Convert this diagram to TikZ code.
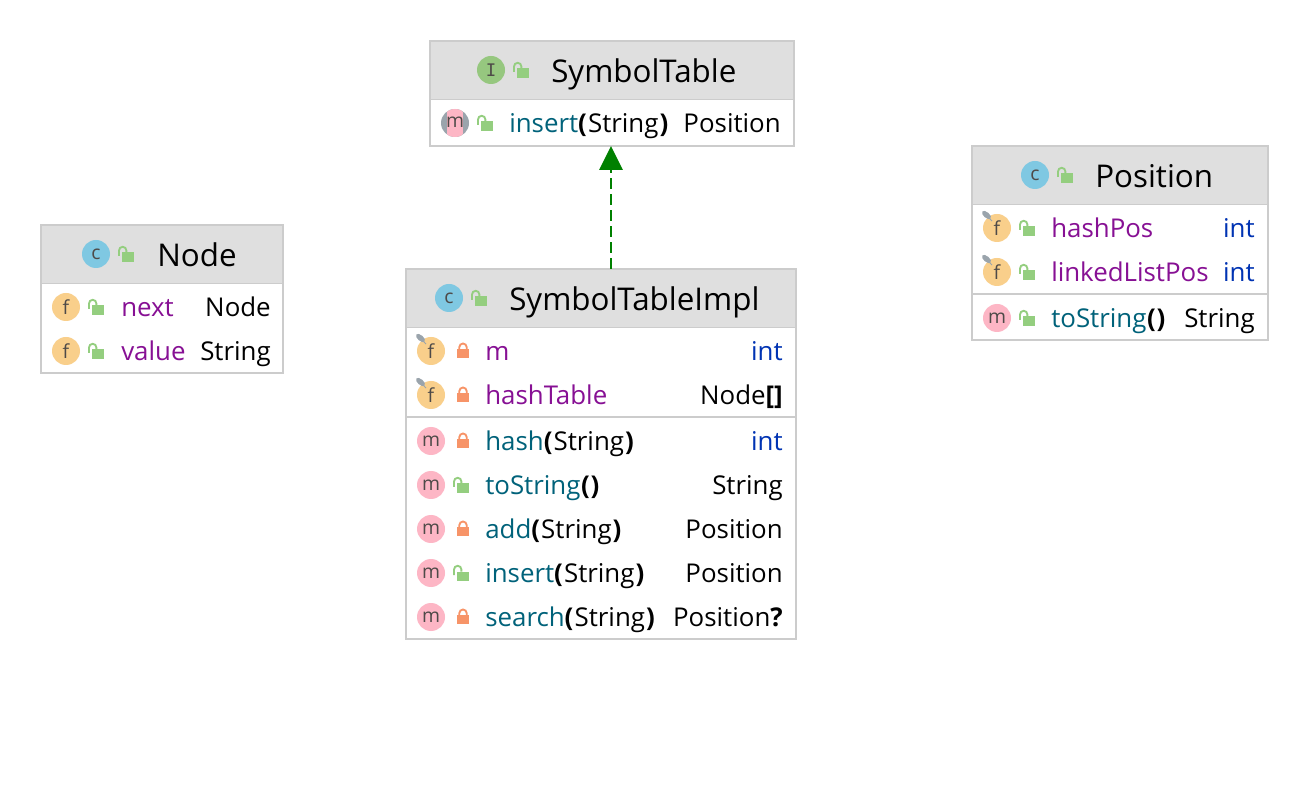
\documentclass[tikz,border=0pt]{standalone}
\usepackage{fontspec}
\setmainfont{Open Sans}
\newfontfamily\icofont{Open Sans}
\newfontfamily\monofnt{DejaVu Sans Mono}
\usetikzlibrary{arrows.meta}
\definecolor{hdr}{HTML}{DFDFDF}
\definecolor{brd}{HTML}{CCCCCC}
\definecolor{mth}{HTML}{00627A}
\definecolor{fld}{HTML}{871094}
\definecolor{typ}{HTML}{0033B3}
\definecolor{cIc}{HTML}{7FC8E2}
\definecolor{iIc}{HTML}{96C77F}
\definecolor{fIc}{HTML}{F9CF8B}
\definecolor{mIc}{HTML}{FDB6C5}
\definecolor{pinc}{HTML}{9AA4AC}
\definecolor{lkg}{HTML}{94CE7F}
\definecolor{lko}{HTML}{F79468}
\definecolor{ltr}{HTML}{4E4A48}
\definecolor{arrowg}{HTML}{008000}
\newcommand\po{\textbf{(}\kern0.8pt}
\newcommand\pc{\kern0.8pt\textbf{)}}
\newcommand\pp{\kern0.5pt\textbf{(\kern0.6pt)}}
\tikzset{
  x=0.75pt,y=-0.75pt,
  classbox/.style={draw=brd,line width=0.9pt,fill=white,inner sep=0pt,outer sep=0pt},
  sepline/.style={draw=brd,line width=1.1pt},
  ttl/.style={inner sep=0pt,anchor=base west,font=\fontsize{23.5}{28}\selectfont,text=black},
  rowl/.style={inner sep=0pt,anchor=base west,font=\fontsize{19.4}{23}\selectfont},
  rowr/.style={inner sep=0pt,anchor=base east,font=\fontsize{19.4}{23}\selectfont,text=black},
  icoltr/.style={inner sep=0pt,font=\icofont\fontsize{14.5}{14.5}\selectfont,text=ltr},
  impl/.style={draw=arrowg,line width=1.6pt,dash pattern=on 8.25pt off 3.75pt,-{Triangle[length=18pt,width=17.5pt,fill=arrowg]}},
}
\newcommand\openlock[2]{%
  \fill[lkg] (#1-4,#2-1.5) rectangle (#1+8,#2+8);
  \draw[lkg,line width=1.4pt] (#1-7,#2+2) -- (#1-7,#2-3.5) arc[start angle=180,end angle=360,radius=3.7] -- (#1+0.4,#2-1.5);
}
\newcommand\closedlock[2]{%
  \fill[lko] (#1-6,#2-2) rectangle (#1+6,#2+7);
  \draw[lko,line width=1.4pt] (#1-3.7,#2-2) -- (#1-3.7,#2-3.8) arc[start angle=180,end angle=360,radius=3.7] -- (#1+3.7,#2-2);
}
\newcommand\pin[2]{%
  \fill[pinc,rotate around={-40:(#1-10.5,#2-13)}] (#1-10.5,#2-13) ellipse[x radius=5.5,y radius=2.8];
  \draw[pinc,line width=0.6pt] (#1-9,#2-11) -- (#1-5,#2-7);
}
\newcommand\icon[5]{\node[circle,fill=#4,minimum size=21pt,inner sep=0pt,icoltr] (#1) at (#2,#3) {#5};}
\begin{document}
\begin{tikzpicture}
\useasboundingbox (0,0) rectangle (1310,812);
\fill[white] (0,0) rectangle (1310,812);

% ---- SymbolTable
\node[classbox,minimum width=273pt,minimum height=78.75pt] (tbl) at (612,93.5) {};
\fill[hdr] (431,42) rectangle (793,99);
\draw[sepline] (430,99.5) -- (794,99.5);
\icon{tblI}{491}{70}{iIc}{\monofnt\fontsize{13}{13}\selectfont I}
\openlock{521}{70}
\node[ttl] (tblT) at (551,82.5) {SymbolTable};
\fill[pinc] (455,123) circle[radius=14];
\begin{scope}
\clip (455,123) circle[radius=14];
\fill[mIc] (447,109) rectangle (463,137);
\end{scope}
\node[icoltr] (tblm) at (455,122.5) {m};
\openlock{485}{123}
\node[rowl] (tblr1) at (509,132.5) {\textcolor{mth}{insert}\po String\pc};
\node[rowr] (tblt1) at (781,132.5) {Position};

% ---- SymbolTableImpl
\node[classbox,minimum width=292.5pt,minimum height=277.5pt] (imp) at (601,454) {};
\fill[hdr] (407,270) rectangle (795,327);
\draw[sepline] (406,327.5) -- (796,327.5);
\draw[sepline] (406,417) -- (796,417);
\icon{impC}{449}{298}{cIc}{c}
\openlock{479}{298}
\node[ttl] (impT) at (509,310.5) {SymbolTableImpl};
\foreach \yy/\nm/\txt/\rt/\kind/\lk in {
  351/a/\textcolor{fld}{m}/\textcolor{typ}{int}/f/c,
  395/b/\textcolor{fld}{hashTable}/Node\textbf{[]}/f/c,
  441/c/\textcolor{mth}{hash}\po String\pc/\textcolor{typ}{int}/m/c,
  485/d/\textcolor{mth}{toString}\pp/String/m/o,
  529/e/\textcolor{mth}{add}\po String\pc/Position/m/c,
  573/f/\textcolor{mth}{insert}\po String\pc/Position/m/o,
  617/g/\textcolor{mth}{search}\po String\pc/Position\textbf{?}/m/c}{%
  \if f\kind
    \icon{impi\nm}{431}{\yy}{fIc}{f}
    \pin{431}{\yy}
  \else
    \icon{impi\nm}{431}{\yy}{mIc}{m}
  \fi
  \if c\lk \closedlock{463}{\yy}\else \openlock{461}{\yy}\fi
  \node[rowl] (impl\nm) at (485,\yy+9.5) {\txt};
  \node[rowr] (impr\nm) at (783,\yy+9.5) {\rt};
}

% ---- Node
\node[classbox,minimum width=181.5pt,minimum height=111pt] (nod) at (162,299) {};
\fill[hdr] (42,226) rectangle (282,283);
\draw[sepline] (41,283.5) -- (283,283.5);
\icon{nodC}{96}{254}{cIc}{c}
\openlock{126}{254}
\node[ttl] (nodT) at (157,266.5) {Node};
\icon{nodf1}{66}{307}{fIc}{f}
\openlock{96}{307}
\node[rowl] (nodl1) at (121,316.5) {\textcolor{fld}{next}};
\node[rowr] (nodr1) at (271,316.5) {Node};
\icon{nodf2}{66}{351}{fIc}{f}
\openlock{96}{351}
\node[rowl] (nodl2) at (121,360.5) {\textcolor{fld}{value}};
\node[rowr] (nodr2) at (271,360.5) {String};

% ---- Position
\node[classbox,minimum width=222pt,minimum height=145.5pt] (pos) at (1120,243) {};
\fill[hdr] (973,147) rectangle (1267,204);
\draw[sepline] (972,204.5) -- (1268,204.5);
\draw[sepline] (972,294) -- (1268,294);
\icon{posC}{1035}{175}{cIc}{c}
\openlock{1065}{175}
\node[ttl] (posT) at (1095,187.5) {Position};
\icon{posf1}{997}{228}{fIc}{f}
\pin{997}{228}
\openlock{1027}{228}
\node[rowl] (posl1) at (1051,237.5) {\textcolor{fld}{hashPos}};
\node[rowr] (posr1) at (1255,237.5) {\textcolor{typ}{int}};
\icon{posf2}{997}{272}{fIc}{f}
\pin{997}{272}
\openlock{1027}{272}
\node[rowl] (posl2) at (1051,281.5) {\textcolor{fld}{linkedListPos}};
\node[rowr] (posr2) at (1255,281.5) {\textcolor{typ}{int}};
\icon{posm}{997}{318}{mIc}{m}
\openlock{1027}{318}
\node[rowl] (posl3) at (1051,327.5) {\textcolor{mth}{toString}\pp};
\node[rowr] (posr3) at (1255,327.5) {String};

% ---- connector
\draw[impl] ([xshift=-0.75pt]imp.north -| tbl.south) -- ([xshift=-0.75pt]tbl.south);
\end{tikzpicture}
\end{document}
